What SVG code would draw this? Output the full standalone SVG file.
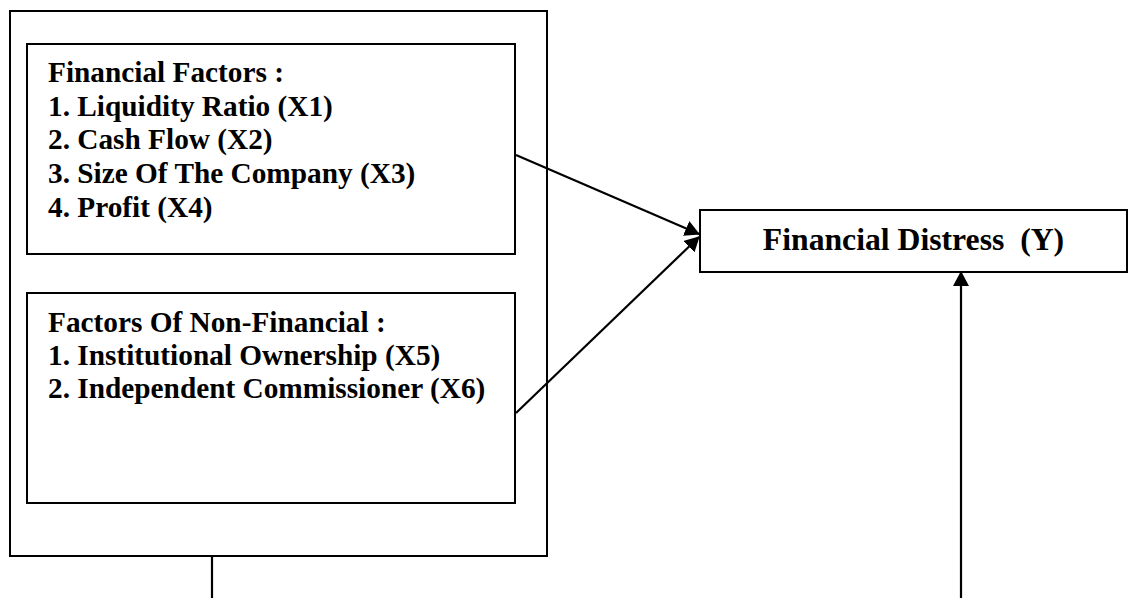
<svg xmlns="http://www.w3.org/2000/svg" width="1128" height="598" viewBox="0 0 1128 598">
<style>
.box{fill:#fff;stroke:#000;stroke-width:2}
.frame{fill:none;stroke:#000;stroke-width:2}
.t{font-family:"Liberation Serif","Times New Roman",serif;font-weight:bold;font-size:29.3px;fill:#000}
.tb{font-family:"Liberation Serif","Times New Roman",serif;font-weight:bold;font-size:31.7px;fill:#000}
.c{fill:none;stroke:#000;stroke-width:2.2}
</style>
<defs>
<marker id="ah" viewBox="0 0 15 16" refX="14" refY="8" markerWidth="15" markerHeight="16" markerUnits="userSpaceOnUse" orient="auto">
<path d="M0,0 L15,8 L0,16 z" fill="#000"/>
</marker>
</defs>
<rect width="1128" height="598" fill="#fff"/>
<g id="outer">
<rect class="frame" x="10" y="11" width="537" height="545"/>
</g>
<g id="financial-factors">
<rect class="box" x="27" y="44" width="488" height="210"/>
<text class="t" x="48" y="82">Financial Factors :</text>
<text class="t" x="48" y="115.7">1. Liquidity Ratio (X1)</text>
<text class="t" x="48" y="149.4">2. Cash Flow (X2)</text>
<text class="t" x="48" y="183.1">3. Size Of The Company (X3)</text>
<text class="t" x="48" y="216.8">4. Profit (X4)</text>
</g>
<g id="non-financial-factors">
<rect class="box" x="27" y="293" width="488" height="210"/>
<text class="t" x="48" y="331.5">Factors Of Non-Financial :</text>
<text class="t" x="48" y="364.5">1. Institutional Ownership (X5)</text>
<text class="t" x="48" y="397.5">2. Independent Commissioner (X6)</text>
</g>
<g id="financial-distress">
<rect class="box" x="700" y="210" width="427" height="62"/>
<text class="tb" x="913.5" y="250" text-anchor="middle" xml:space="preserve">Financial Distress  (Y)</text>
</g>
<g id="connectors">
<path class="c" d="M516,155 L699,234" marker-end="url(#ah)"/>
<path class="c" d="M516,413 L699,237" marker-end="url(#ah)"/>
<path class="c" d="M961,598 L961,272" marker-end="url(#ah)"/>
<path class="c" d="M212,556 L212,598"/>
</g>
</svg>
